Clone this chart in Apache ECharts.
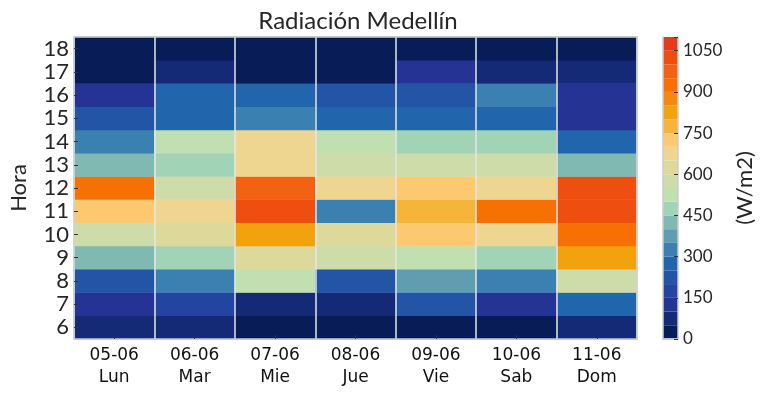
<!DOCTYPE html>
<html><head><meta charset="utf-8">
<script src="https://cdn.jsdelivr.net/npm/echarts@6/dist/echarts.min.js"></script>
<style>html,body{margin:0;padding:0;background:#fff}#c{width:764px;height:395px}</style>
</head><body><div id="c"></div>
<script>
const days = ['05-06\nLun','06-06\nMar','07-06\nMie','08-06\nJue','09-06\nVie','10-06\nSab','11-06\nDom'];
const hours = ['6','7','8','9','10','11','12','13','14','15','16','17','18'];
// values per day, hour 6 -> 18 (W/m2)
const lun = [75,125,225,425,575,725,925,425,325,225,125,25,25];
const mar = [75,175,325,475,625,675,575,475,525,275,275,75,25];
const mie = [25,75,525,625,825,1025,975,675,675,325,275,25,25];
const jue = [25,75,225,575,625,325,675,575,525,275,225,25,25];
const vie = [25,225,375,525,725,775,725,575,475,275,225,125,25];
const sab = [25,125,325,475,675,925,675,575,475,275,325,75,25];
const dom = [75,275,575,825,925,1025,1025,425,275,125,125,75,25];
const colorTicks = [0,150,300,450,600,750,900,1050];
const binColors = ['#081d58','#142a76','#253494','#2344a0','#2255a5','#2166ac','#3a80b0','#5f9db0','#7fb9b2','#a1d3b6','#c0e0b1','#cedcaa','#ddd99a','#efd690','#fdc970','#f5b43a','#f2a20c','#f4890a','#f67004','#f26212','#ee4e10','#e8391a'];
const binSize = 50;

const cols = [lun, mar, mie, jue, vie, sab, dom];
const heatData = [];
cols.forEach((col, xi) => col.forEach((v, yi) => heatData.push([xi, yi, v])));
const cbMax = binColors.length * binSize;

const txt = '#262626';
const border = '#cccccc';
const yFont = 'Lato, "Open Sans", sans-serif';

const cbSeries = binColors.map((c, i) => ({
  type: 'bar', xAxisIndex: 2, yAxisIndex: 3, stack: 'cb', barWidth: '100%',
  data: [binSize], itemStyle: { color: c }, silent: true, animation: false
}));

const chart = echarts.init(document.getElementById('c'), null, { renderer: 'canvas' });
chart.setOption({
  animation: false,
  backgroundColor: '#fff',
  title: {
    text: 'Radiación Medellín', left: 353, top: 4, textAlign: 'center',
    textStyle: { fontFamily: yFont, fontSize: 24, fontWeight: 'normal', color: txt }
  },
  grid: [
    { left: 70, right: 127, top: 37, bottom: 56 },
    { left: 663, right: 86, top: 37, bottom: 56 }
  ],
  visualMap: {
    type: 'piecewise', show: false, seriesIndex: 0, dimension: 2,
    pieces: binColors.map((c, i) => ({ gte: i * binSize, lt: (i + 1) * binSize, color: c }))
  },
  xAxis: [
    { type: 'category', gridIndex: 0, data: days, position: 'bottom', z: 5,
      axisLine: { show: true, lineStyle: { color: border, width: 1.5 } },
      axisTick: { show: true, inside: true, alignWithLabel: true, interval: 0, length: 4, lineStyle: { color: '#333' } },
      axisLabel: { interval: 0, fontFamily: '"DejaVu Sans", sans-serif', fontSize: 17, color: '#111', lineHeight: 22, margin: 6 },
      splitLine: { show: true, interval: 0, lineStyle: { color: '#e6e6e6', width: 1.5 } } },
    { type: 'category', gridIndex: 0, data: days, position: 'top', z: 5,
      axisLine: { show: true, lineStyle: { color: border, width: 1.5 } },
      axisTick: { show: false }, axisLabel: { show: false } },
    { type: 'category', gridIndex: 1, data: ['cb'], position: 'bottom', z: 5,
      axisLine: { show: true, lineStyle: { color: border, width: 1.5 } },
      axisTick: { show: false }, axisLabel: { show: false } },
    { type: 'category', gridIndex: 1, data: ['cb'], position: 'top', z: 5,
      axisLine: { show: true, lineStyle: { color: border, width: 1.5 } },
      axisTick: { show: false }, axisLabel: { show: false } }
  ],
  yAxis: [
    { type: 'category', gridIndex: 0, data: hours, position: 'left', z: 5,
      name: 'Hora', nameLocation: 'middle', nameGap: 44,
      nameTextStyle: { fontFamily: yFont, fontSize: 22, color: txt },
      axisLine: { show: true, lineStyle: { color: border, width: 1.5 } },
      axisTick: { show: true, inside: true, alignWithLabel: true, interval: 0, length: 4, lineStyle: { color: '#333' } },
      axisLabel: { interval: 0, fontFamily: yFont, fontSize: 22, color: txt, margin: 5 } },
    { type: 'category', gridIndex: 0, data: hours, position: 'right', z: 5,
      axisLine: { show: true, lineStyle: { color: border, width: 1.5 } },
      axisTick: { show: false }, axisLabel: { show: false } },
    { type: 'value', gridIndex: 1, position: 'left', min: 0, max: cbMax, z: 5,
      axisLine: { show: true, lineStyle: { color: border, width: 1.5 } },
      axisTick: { show: false }, axisLabel: { show: false }, splitLine: { show: false } },
    { type: 'value', gridIndex: 1, position: 'right', min: 0, max: cbMax, interval: 150, z: 5,
      name: '(W/m2)', nameLocation: 'middle', nameRotate: 90, nameGap: 56,
      nameTextStyle: { fontFamily: yFont, fontSize: 22, color: txt },
      axisLine: { show: true, lineStyle: { color: border, width: 1.5 } },
      axisTick: { show: true, inside: true, length: 4, lineStyle: { color: '#333' } },
      axisLabel: { fontFamily: yFont, fontSize: 17, color: txt, margin: 5,
        formatter: v => colorTicks.indexOf(v) >= 0 ? String(v) : '' },
      splitLine: { show: false } }
  ],
  series: [
    { type: 'heatmap', xAxisIndex: 0, yAxisIndex: 0, data: heatData,
      itemStyle: { borderWidth: 0 }, emphasis: { disabled: true } }
  ].concat(cbSeries)
});
</script>
</body></html>
